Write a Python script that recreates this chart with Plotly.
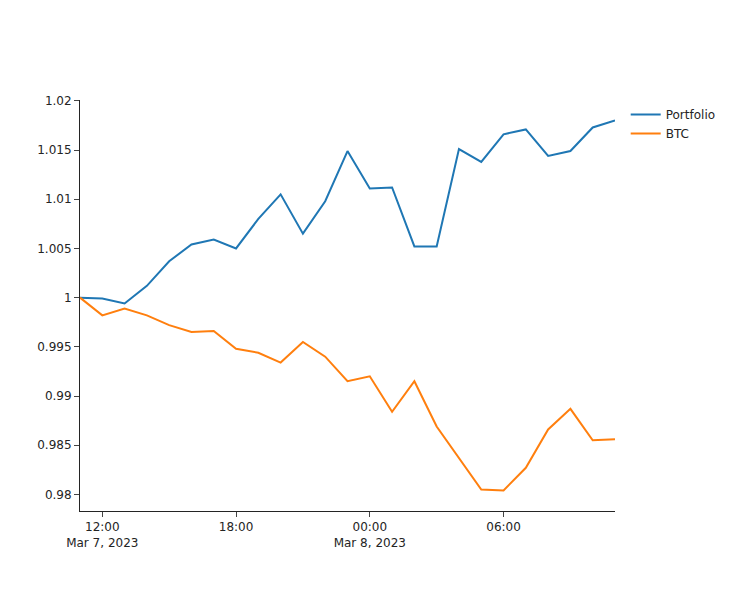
import pandas as pd
import plotly.graph_objects as go

times = pd.date_range("2023-03-07 11:00", "2023-03-08 11:00", freq="h")

portfolio = [1.0, 0.9999, 0.9994, 1.0012, 1.0037, 1.0054, 1.0059, 1.0050, 1.0080,
             1.0105, 1.0065, 1.0098, 1.0149, 1.0111, 1.0112, 1.0052, 1.0052, 1.0151,
             1.0138, 1.0166, 1.0171, 1.0144, 1.0149, 1.0173, 1.0180]
btc = [1.0, 0.9982, 0.9989, 0.9982, 0.9972, 0.9965, 0.9966, 0.9948, 0.9944,
       0.9934, 0.9955, 0.9940, 0.9915, 0.9920, 0.9884, 0.9915, 0.9869, 0.9837,
       0.9805, 0.9804, 0.9827, 0.9866, 0.9887, 0.9855, 0.9856]

fig = go.Figure()
fig.add_trace(go.Scatter(x=times, y=portfolio, mode="lines", name="Portfolio",
                         line=dict(color="#1f77b4", width=2)))
fig.add_trace(go.Scatter(x=times, y=btc, mode="lines", name="BTC",
                         line=dict(color="#ff7f0e", width=2)))
fig.update_layout(template="simple_white", width=733, height=591,
                  font=dict(family="DejaVu Sans, Verdana, sans-serif", size=12))
fig.write_html("out.html", config={"displayModeBar": False},
               post_script="document.body.style.margin='0';")
